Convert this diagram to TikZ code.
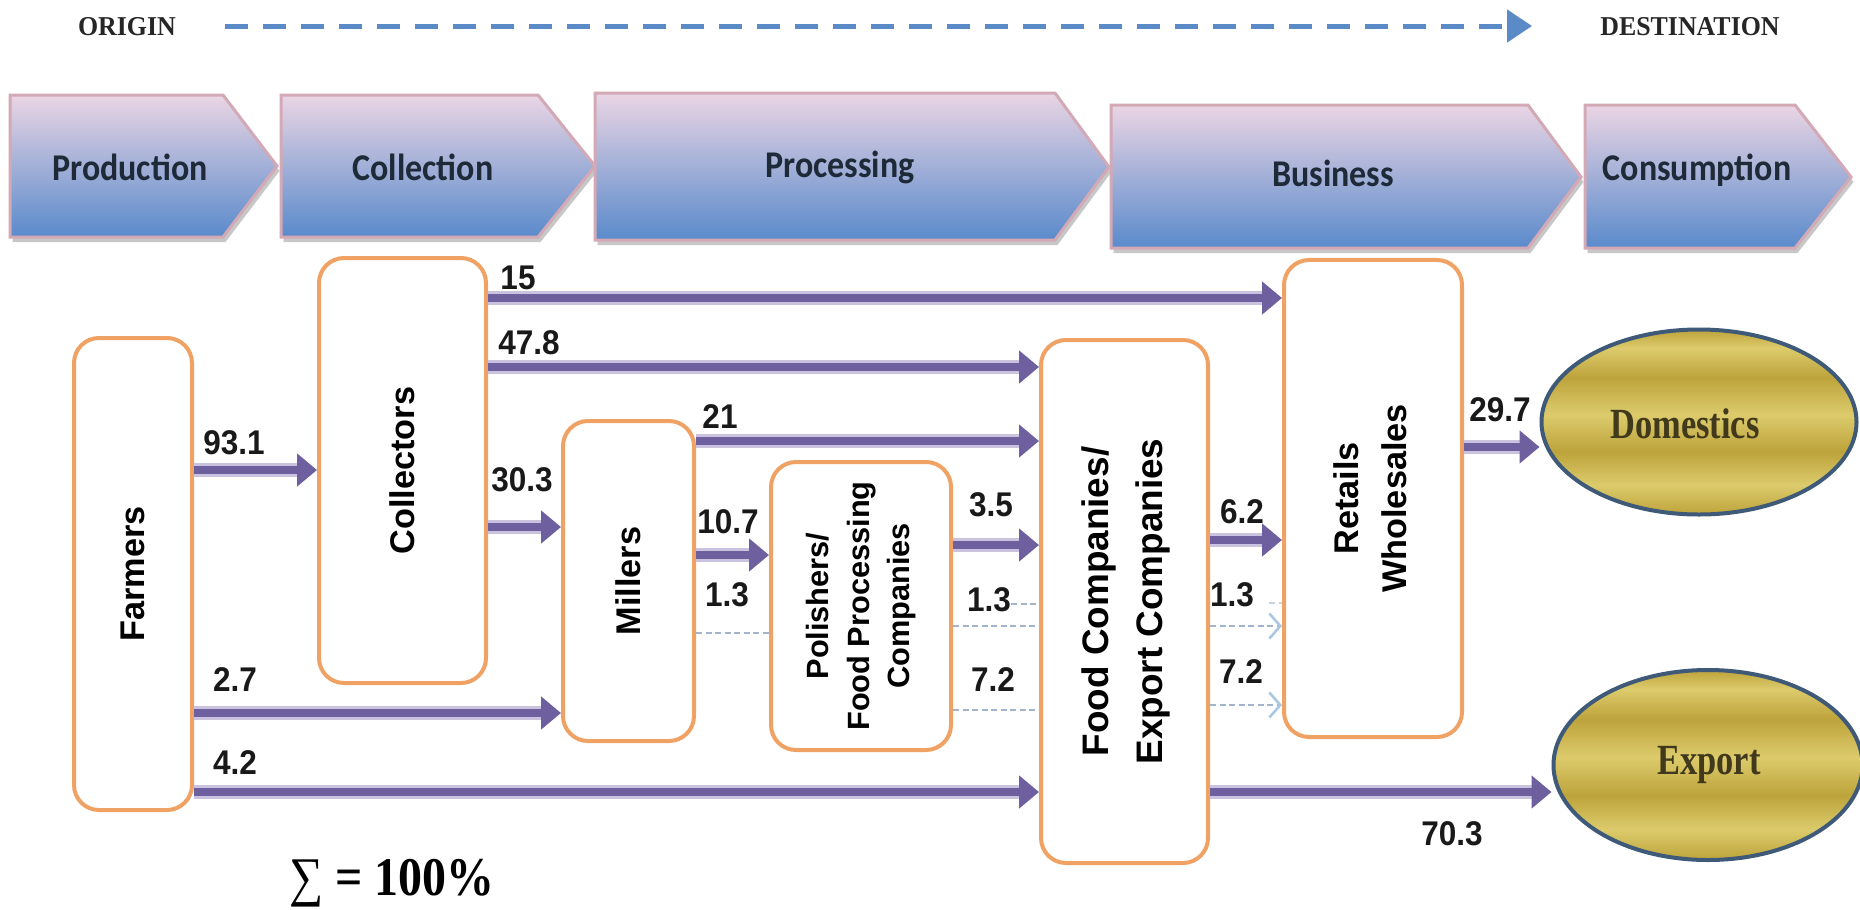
\documentclass[tikz,border=0pt]{standalone}
\usepackage{fontspec}
\setmainfont{Liberation Serif}
\setsansfont{Liberation Sans}
\newfontfamily\chevfont{Carlito}
\usetikzlibrary{arrows.meta,shapes.geometric,calc}

\definecolor{flowc}{HTML}{6E5F9F}
\definecolor{flowlight}{HTML}{CAC3DF}
\definecolor{boxc}{HTML}{F0A264}
\definecolor{dotc}{HTML}{A3B5CC}
\definecolor{dotarr}{HTML}{A9C6E2}
\definecolor{dashc}{HTML}{5B8BC6}
\definecolor{chevtop}{HTML}{EAD5E4}
\definecolor{chevmid}{HTML}{9DC2E7}
\definecolor{chevbot}{HTML}{5A8ACB}
\definecolor{chevline}{HTML}{D3A9B6}
\definecolor{goldA}{HTML}{BDA33B}
\definecolor{goldB}{HTML}{DCCB6C}
\definecolor{ellline}{HTML}{3E5A78}
\definecolor{txtdark}{HTML}{1E2A38}
\definecolor{olivec}{HTML}{41391B}
\definecolor{headc}{HTML}{262626}

\pgfdeclareverticalshading{goldband}{100bp}{%
  color(0bp)=(goldA); color(25bp)=(goldA); color(33bp)=(goldB);
  color(42bp)=(goldA); color(52bp)=(goldB); color(62bp)=(goldA);
  color(70bp)=(goldB); color(75bp)=(goldA); color(100bp)=(goldA)}

\newcommand\cond[2][0.9]{\scalebox{#1}[1]{#2}}
\newcommand\mychev[6]{%
  \fill[black!22, xshift=0.5mm, yshift=-1mm] (#1,#4) -- (#2,#4) -- (#3,#6) -- (#2,#5) -- (#1,#5) -- cycle;
  \shadedraw[top color=chevtop, middle color=chevmid, bottom color=chevbot,
    draw=chevline, line width=0.6mm, line join=miter]
    (#1,#4) -- (#2,#4) -- (#3,#6) -- (#2,#5) -- (#1,#5) -- cycle;}

\begin{document}
\begin{tikzpicture}[x=0.2mm,y=-0.2mm,
  box/.style={draw=boxc, line width=0.8mm, rounded corners=5mm, fill=white, inner sep=0pt,
    font=\sffamily\bfseries\fontsize{19.5}{27}\selectfont, text=black},
  num/.style={font=\sffamily\bfseries\fontsize{19.5}{20}\selectfont, inner sep=0pt, text=black!90},
  chevtext/.style={font=\chevfont\bfseries\fontsize{21.5}{24}\selectfont, text=txtdark, inner sep=0pt},
  headtext/.style={font=\bfseries\fontsize{15.5}{16}\selectfont, text=headc, inner sep=0pt},
  ell/.style={ellipse, draw=ellline, line width=0.8mm, shading=goldband, inner sep=0pt},
  elltext/.style={font=\bfseries\fontsize{24.5}{26}\selectfont, text=olivec, inner sep=0pt},
  flowarrow/.style={draw=flowc, line width=1.5mm, -{Triangle[length=4mm,width=6.4mm]},
    preaction={draw=flowlight, line width=2.7mm, -, shorten >=3.5mm}},
  dotline/.style={draw=dotc, line width=0.45mm, dash pattern=on 1.2mm off 0.7mm},
  dotarrow/.style={dotline, -{Straight Barb[length=2.2mm,width=5mm,line width=0.5mm,color=dotarr]}}
]
\useasboundingbox (0,0) rectangle (1860,909);
\fill[white] (0,0) rectangle (1860,909);

% ---- header ----
\node[headtext] (orig) at (127,27) {\cond[0.95]{ORIGIN}};
\node[headtext] (dest) at (1690,27) {\cond[0.95]{DESTINATION}};
\coordinate (dstart) at (225,26);
\coordinate (dend) at (1532,26);
\draw[dashc, line width=1mm, dash pattern=on 4.6mm off 3mm, -{Triangle[length=5mm,width=6.4mm]}] (dstart) -- (dend);

% ---- chevrons ----
\mychev{10}{223}{277}{95}{237}{166}
\mychev{281}{538}{595}{95}{237}{166}
\mychev{595}{1055}{1109}{93}{240}{167}
\mychev{1111}{1528}{1581}{105}{248}{177}
\mychev{1585}{1795}{1851}{105}{248}{177}
\node[chevtext] (tprod) at (130,167) {\cond{Production}};
\node[chevtext] (tcoll) at (423,167) {\cond{Collection}};
\node[chevtext] (tproc) at (840,167) {\cond{Processing}};
\node[chevtext] (tbus) at (1333,173) {\cond{Business}};
\node[chevtext] (tcons) at (1697,170) {\cond{Consumption}};

% ---- boxes ----
\node[box, minimum width=23.6mm, minimum height=94.4mm] (farm) at (133,574) {\rotatebox{90}{Farmers}};
\node[box, minimum width=33.4mm, minimum height=85mm] (coll) at (402.5,470.5) {\rotatebox{90}{Collectors}};
\node[box, minimum width=26.2mm, minimum height=64mm] (mill) at (628.5,581) {\rotatebox{90}{Millers}};
\node[box, minimum width=36mm, minimum height=57.6mm, font=\sffamily\bfseries\fontsize{17.5}{22.8}\selectfont] (pol) at (861,606)
  {\rotatebox{90}{\begin{tabular}{@{}c@{}}Polishers/\\Food Processing\\Companies\end{tabular}}};
\node[box, minimum width=33.4mm, minimum height=104.6mm, font=\sffamily\bfseries\fontsize{21}{30.5}\selectfont] (food) at (1124.5,601.5)
  {\rotatebox{90}{\begin{tabular}{@{}c@{}}Food Companies/\\Export Companies\end{tabular}}};
\node[box, minimum width=35.6mm, minimum height=95.4mm] (ret) at (1373,498.5)
  {\rotatebox{90}{\begin{tabular}{@{}c@{}}Retails\\Wholesales\end{tabular}}};

% ---- ellipses ----
\node[ell, minimum width=63mm, minimum height=37mm] (dom) at (1699,422) {};
\node[ell, minimum width=61.8mm, minimum height=38mm] (expo) at (1708,765) {};
\node[elltext] (tdom) at (1685,424) {\cond[0.8]{Domestics}};
\node[elltext] (texp) at (1709,765) {\cond[0.8]{Export}};

% ---- row coordinates ----
\coordinate (h15) at (0,298);
\coordinate (h478) at (0,367);
\coordinate (h931) at (0,470);
\coordinate (h303) at (0,527);
\coordinate (h21) at (0,441);
\coordinate (h107) at (0,555);
\coordinate (d13a) at (0,633);
\coordinate (h27) at (0,713);
\coordinate (h42) at (0,792);
\coordinate (h35) at (0,545);
\coordinate (d13b) at (0,604);
\coordinate (d13bb) at (0,626);
\coordinate (d72a) at (0,710);
\coordinate (h62) at (0,540);
\coordinate (d13c) at (0,626);
\coordinate (d13cc) at (0,603);
\coordinate (d72b) at (0,705);
\coordinate (h297) at (0,447);

% ---- labels ----
\node[num] (l15) at (518,278) {\cond[0.92]{15}};
\node[num] (l478) at (529,343) {\cond[0.92]{47.8}};
\node[num] (l931) at (234,443) {\cond[0.92]{93.1}};
\node[num] (l303) at (522,480) {\cond[0.92]{30.3}};
\node[num] (l21) at (720,417) {\cond[0.92]{21}};
\node[num] (l107) at (728,522) {\cond[0.92]{10.7}};
\node[num] (l13a) at (727,595) {\cond[0.92]{1.3}};
\node[num] (l27) at (235,680) {\cond[0.92]{2.7}};
\node[num] (l42) at (235,763) {\cond[0.92]{4.2}};
\node[num] (l35) at (991,505) {\cond[0.92]{3.5}};
\node[num] (l13b) at (989,600) {\cond[0.92]{1.3}};
\node[num] (l72a) at (993,680) {\cond[0.92]{7.2}};
\node[num] (l62) at (1242,512) {\cond[0.92]{6.2}};
\node[num] (l13c) at (1232,595) {\cond[0.92]{1.3}};
\node[num] (l72b) at (1241,672) {\cond[0.92]{7.2}};
\node[num] (l297) at (1500,410) {\cond[0.92]{29.7}};
\node[num] (l703) at (1452,834) {\cond[0.92]{70.3}};
\node[inner sep=0pt, font=\fontsize{31}{32}\selectfont] (sum) at (392,883) {\cond[0.88]{∑ \textbf{= 100\%}}};

% ---- flows ----
\draw[flowarrow] (coll.east |- h15) -- (ret.west |- h15);
\draw[flowarrow] (coll.east |- h478) -- (food.west |- h478);
\draw[flowarrow] (farm.east |- h931) -- (coll.west |- h931);
\draw[flowarrow] (coll.east |- h303) -- (mill.west |- h303);
\draw[flowarrow] (mill.east |- h21) -- (food.west |- h21);
\draw[flowarrow] (mill.east |- h107) -- (pol.west |- h107);
\draw[flowarrow] (farm.east |- h27) -- (mill.west |- h27);
\draw[flowarrow] (farm.east |- h42) -- (food.west |- h42);
\draw[flowarrow] (pol.east |- h35) -- (food.west |- h35);
\draw[flowarrow] (food.east |- h62) -- (ret.west |- h62);
\draw[flowarrow] (ret.east |- h297) -- (dom.west |- h297);
\draw[flowarrow] (food.east |- h42) -- (expo.west |- h42);

% ---- dotted flows ----
\draw[dotline] (mill.east |- d13a) -- (pol.west |- d13a);
\draw[dotline] (l13b.east |- d13b) -- (food.west |- d13b);
\draw[dotline] (pol.east |- d13bb) -- (food.west |- d13bb);
\draw[dotline] (pol.east |- d72a) -- (food.west |- d72a);
\draw[dotline, dotc!60] ([xshift=3mm]l13c.east |- d13cc) -- (ret.west |- d13cc);
\draw[dotarrow] (food.east |- d13c) -- (ret.west |- d13c);
\draw[dotarrow] (food.east |- d72b) -- (ret.west |- d72b);
\end{tikzpicture}
\end{document}
